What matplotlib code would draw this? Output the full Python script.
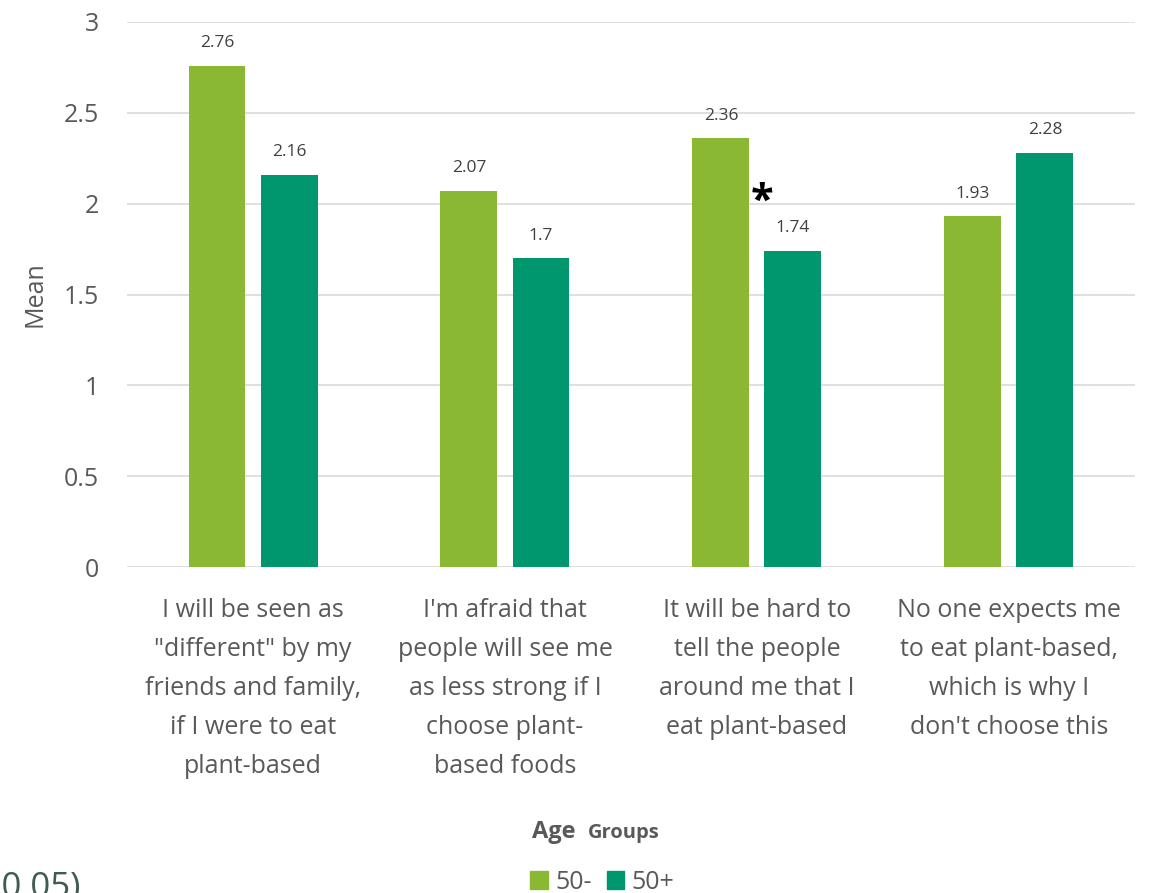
import numpy as np
import matplotlib
matplotlib.use('agg')
import matplotlib.pyplot as plt
from matplotlib.patches import Patch

plt.rcParams['font.family'] = ['Open Sans', 'DejaVu Sans']

categories = ['I will be seen as\n"different" by my\nfriends and family,\nif I were to eat\nplant-based',
              "I'm afraid that\npeople will see me\nas less strong if I\nchoose plant-\nbased foods",
              'It will be hard to\ntell the people\naround me that I\neat plant-based',
              "No one expects me\nto eat plant-based,\nwhich is why I\ndon't choose this"]
under_50 = [2.76, 2.07, 2.36, 1.93]
over_50 = [2.16, 1.70, 1.74, 2.28]
series_names = ['50-', '50+']
colors = ['#8AB833', '#00976F']
text_col = '#595959'

fig = plt.figure(figsize=(11.58, 8.93), dpi=100)
ax = fig.add_axes([0.1097, 0.365, 0.8703, 0.6104])

x = np.arange(len(categories))
off, w = 0.143, 0.226
ax.bar(x - off, under_50, w, color=colors[0], zorder=3)
ax.bar(x + off, over_50, w, color=colors[1], zorder=3)

for xi, v in zip(x - off, under_50):
    ax.text(xi, v + 0.08, '{:g}'.format(v), ha='center', va='bottom', fontsize=12.5, color='#404040')
for xi, v in zip(x + off, over_50):
    ax.text(xi, v + 0.08, '{:g}'.format(v), ha='center', va='bottom', fontsize=12.5, color='#404040')

# significance marker
ax.text(2.02, 2.01, '*', ha='center', va='center', fontsize=30, fontweight='bold', color='black')

ax.set_xlim(-0.5, 3.5)
ax.set_ylim(0, 3)
ax.set_yticks([0, 0.5, 1, 1.5, 2, 2.5, 3])
ax.set_yticklabels(['0', '0.5', '1', '1.5', '2', '2.5', '3'])
ax.yaxis.grid(True, color='#d9d9d9', linewidth=1.2, zorder=0)
for s in ax.spines.values():
    s.set_visible(False)
ax.tick_params(axis='y', length=0, pad=20, labelsize=18, labelcolor=text_col)
ax.tick_params(axis='x', length=0, pad=22, labelsize=18, labelcolor=text_col)
ax.set_xticks(x)
ax.set_xticklabels(categories, linespacing=1.74)
ax.set_ylabel('Mean', fontsize=18, color=text_col, labelpad=12)

# legend title in two sizes
fig.text(532 / 1158, 1 - 838 / 893, 'Age', fontsize=17, fontweight='bold', color=text_col, va='baseline')
fig.text(588 / 1158, 1 - 838 / 893, 'Groups', fontsize=14.5, fontweight='bold', color=text_col, va='baseline')

handles = [Patch(color=c, label=n) for c, n in zip(colors, series_names)]
fig.legend(handles=handles, loc='center', bbox_to_anchor=(0.52, 0.012), ncol=2, frameon=False,
           fontsize=18, labelcolor=text_col, handlelength=0.7, handleheight=0.7,
           handletextpad=0.3, columnspacing=0.6)

fig.text(80 / 1158, -0.0045, '* (p<0.05)', ha='right', va='baseline', fontsize=25, color='#3E5C4F')

fig.savefig('out.png', dpi=100)
